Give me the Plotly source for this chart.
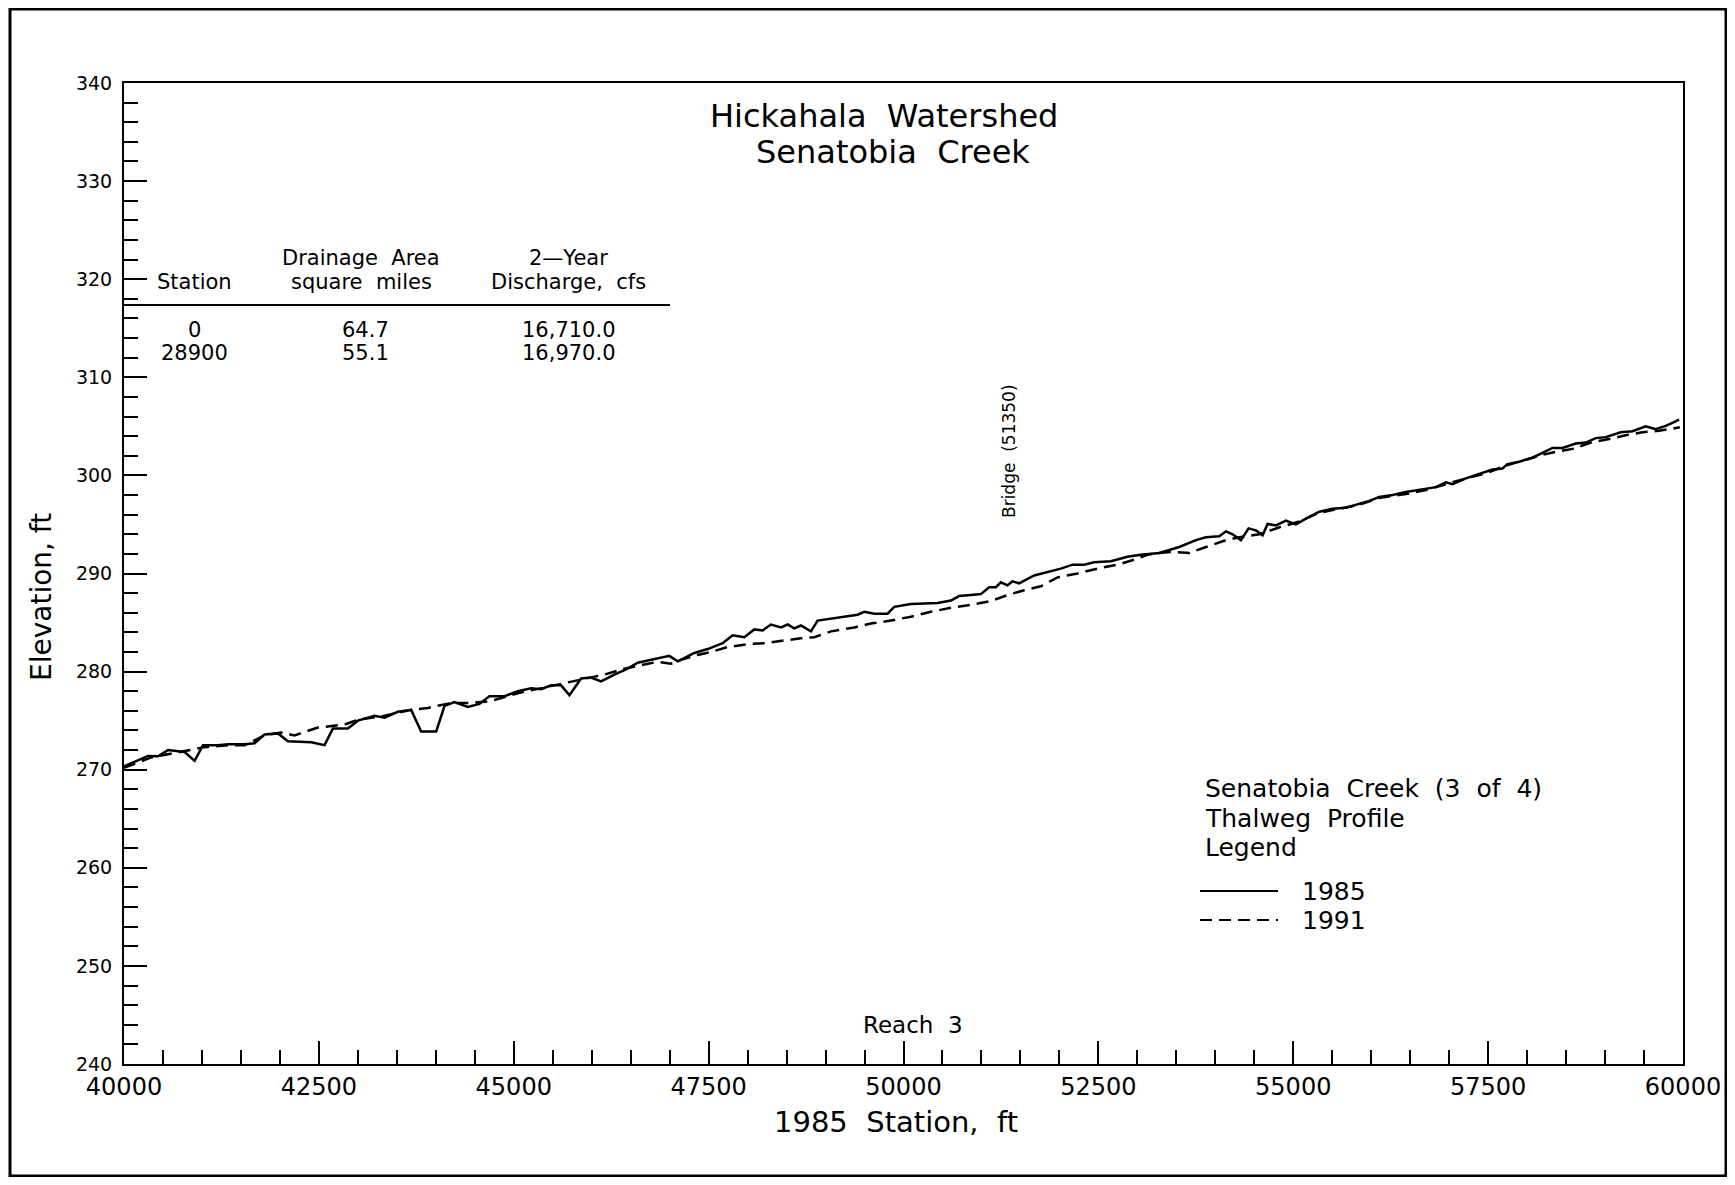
import plotly.graph_objects as go

# ---------------- data ----------------
station_1985 = [40000, 40180, 40308, 40436, 40564, 40778, 40906, 41013, 41205, 41333,
                41547, 41675, 41804, 41975, 42103, 42402, 42573, 42680, 42872, 43000,
                43214, 43342, 43513, 43684, 43812, 44005, 44112, 44240, 44411, 44560,
                44689, 44881, 45052, 45223, 45351, 45479, 45607, 45714, 45864, 45992,
                46120, 46291, 46462,
                46590, 46761, 46996, 47103, 47317, 47488, 47680, 47808, 47958, 48086,
                48193, 48300, 48428, 48513, 48599, 48684, 48812, 48898, 49069, 49283,
                49411, 49496, 49625, 49796, 49881, 50095, 50437, 50608, 50714, 50864,
                50992, 51099, 51185, 51249, 51334, 51398, 51484, 51676, 51890, 52018,
                52168, 52317, 52445, 52659, 52873, 53044,
                53282, 53538, 53752, 53880, 54051, 54137, 54222, 54329, 54427, 54521,
                54607, 54671, 54778, 54906, 55034, 55163, 55334, 55504, 55675, 55846,
                55975, 56103, 56274, 56445, 56616, 56829, 56958, 57043, 57214, 57428,
                57556, 57684, 57748, 57898, 58069, 58197, 58325, 58454, 58625, 58753,
                58881, 59009, 59201, 59351, 59522, 59650, 59778, 59906, 59950]
elev_1985 = [270.34, 271.0, 271.4, 271.36, 272.0, 271.8, 270.9, 272.5, 272.5, 272.6,
             272.6, 272.7, 273.6, 273.7, 272.9, 272.8, 272.5, 274.2, 274.2, 275.0,
             275.5, 275.3, 275.9, 276.1, 273.9, 273.9, 276.5, 276.9, 276.4, 276.7,
             277.5, 277.5, 278.0, 278.3, 278.2, 278.6, 278.6, 277.6, 279.3, 279.4,
             279.0, 279.7, 280.3,
             280.9, 281.2, 281.6, 281.05, 281.9, 282.3, 282.9, 283.7, 283.5, 284.3,
             284.2, 284.8, 284.5, 284.8, 284.4, 284.7, 284.1, 285.2, 285.4, 285.6,
             285.8, 286.1, 285.9, 285.9, 286.6, 286.9, 287.0, 287.25, 287.7, 287.8,
             287.9, 288.6, 288.6, 289.1, 288.8, 289.2, 289.0, 289.8, 290.2, 290.5,
             290.9, 290.9, 291.15, 291.25, 291.7, 291.9,
             292.1, 292.7, 293.4, 293.7, 293.8, 294.3, 294.0, 293.4, 294.6, 294.4,
             293.9, 295.05, 294.9, 295.4, 295.0, 295.6, 296.3, 296.6, 296.7, 297.1,
             297.4, 297.8, 298.0, 298.3, 298.5, 298.8, 299.3, 299.1, 299.7, 300.3,
             300.6, 300.7, 301.15, 301.4, 301.8, 302.3, 302.8, 302.8, 303.25, 303.35,
             303.8, 303.9, 304.4, 304.5, 305.0, 304.7, 305.05, 305.5, 305.7]

station_1991 = [40000, 40350, 40778, 41034, 41333, 41547, 41804, 42017, 42188, 42487,
                42829, 43000, 43342, 43684, 43898, 44197, 44454, 44710, 45052, 45394,
                45650, 45949, 46163, 46419,
                46590, 46846, 47017, 47146, 47359, 47530, 47744, 48000, 48214, 48471,
                48683, 48855, 49069, 49368, 49582, 49838, 50095, 50351, 50608, 50864,
                51120, 51334, 51548, 51762, 51975, 52232, 52488, 52745, 52958, 53129,
                53282, 53453, 53667, 53880, 54137, 54308, 54564, 54821, 55077, 55334,
                55590, 55846, 56103, 56445, 56701, 56958, 57214, 57470, 57727, 57983,
                58197, 58368, 58582, 58838, 59052, 59266, 59479, 59693, 59885, 59960]
elev_1991 = [270.2, 271.25, 271.9, 272.3, 272.5, 272.5, 273.5, 273.8, 273.5, 274.3,
             274.6, 275.1, 275.5, 276.1, 276.3, 276.8, 276.8, 277.0, 277.8, 278.4,
             278.8, 279.4, 279.7, 280.3,
             280.6, 281.0, 280.8, 281.2, 281.7, 282.0, 282.5, 282.8, 282.9, 283.2,
             283.4, 283.5, 284.1, 284.5, 284.9, 285.2, 285.6, 286.1, 286.5, 286.8,
             287.2, 287.8, 288.3, 288.7, 289.6, 290.0, 290.5, 290.9, 291.4, 291.9,
             292.1, 292.2, 292.1, 292.7, 293.4, 293.7, 294.0, 294.7, 295.3, 296.2,
             296.6, 297.0, 297.7, 298.1, 298.5, 299.1, 299.7, 300.2, 301.0, 301.6,
             302.1, 302.4, 302.7, 303.4, 303.7, 304.1, 304.4, 304.55, 304.8, 304.9]

series_names = ["1985", "1991"]

table_headers_top = ["", "Drainage Area", "2\u2014Year"]
table_headers_bottom = ["Station", "square miles", "Discharge, cfs"]
table_station = ["0", "28900"]
table_area = ["64.7", "55.1"]
table_discharge = ["16,710.0", "16,970.0"]

title_lines = ["Hickahala Watershed", "Senatobia Creek"]
legend_title_lines = ["Senatobia Creek (3 of 4)", "Thalweg Profile", "Legend"]
bridge_label = "Bridge (51350)"
reach_label = "Reach 3"
x_title = "1985 Station, ft"
y_title = "Elevation, ft"

# ---------------- layout geometry ----------------
# page has an 8px body margin, so figure pixel = page pixel - 8
OFF = 8
W, H = 1719, 1169
PL, PR, PT, PB = 124 - OFF, 1683 - OFF, 83 - OFF, 1064 - OFF
FONT = "DejaVu Sans"
NB2 = "\u00a0\u00a0"  # the drafting font uses wide word gaps


def wide(s):
    return s.replace(" ", NB2)


def px(xpage, ypage):
    xf, yf = xpage - OFF, ypage - OFF
    return (xf - PL) / (PR - PL), (PB - yf) / (PB - PT)


fig = go.Figure()
fig.add_trace(go.Scatter(x=station_1985, y=elev_1985, mode="lines", name=series_names[0],
                         line=dict(color="black", width=2.5)))
fig.add_trace(go.Scatter(x=station_1991, y=elev_1991, mode="lines", name=series_names[1],
                         line=dict(color="black", width=2.5, dash="12px,7px")))

annotations = []


def text(s, xp, yp, size, xanchor="center", angle=0):
    x, y = px(xp, yp)
    annotations.append(dict(text=s, x=x, y=y, xref="paper", yref="paper",
                            xanchor=xanchor, yanchor="middle", showarrow=False,
                            textangle=angle, font=dict(family=FONT, size=size, color="black")))


# title
text(wide(title_lines[0]), 884, 116, 32)
text(wide(title_lines[1]), 893, 152, 32)

# table
col_x = [194, 361, 568]
for cx, t in zip(col_x, table_headers_top):
    if t:
        text(wide(t), cx, 258, 21)
for cx, t in zip(col_x, table_headers_bottom):
    text(wide(t), cx, 282, 21)
for i, yy in enumerate([330, 353]):
    text(table_station[i], col_x[0], yy, 21)
    text(table_area[i], 365, yy, 21)
    text(table_discharge[i], 569, yy, 21)

# bridge + reach labels
text(wide(bridge_label), 1009, 451, 17, angle=-90)
text(wide(reach_label), 913, 1025, 23)

# legend block
for t, yy in zip(legend_title_lines, [788, 818, 847]):
    text(wide(t), 1203, yy, 25, xanchor="left")
text(series_names[0], 1300, 891, 25, xanchor="left")
text(series_names[1], 1300, 920, 25, xanchor="left")

# axis titles
text(wide(x_title), 896, 1122, 29)
text(y_title, 41, 597, 28, angle=-90)

shapes = []
# table rule
x0, y0 = px(124, 305)
x1, _ = px(670, 305)
shapes.append(dict(type="line", xref="paper", yref="paper", x0=x0, x1=x1, y0=y0, y1=y0,
                   line=dict(color="black", width=2)))
# legend samples
for yy, dash in [(891, "solid"), (920, "12px,7px")]:
    a, b = px(1200, yy)
    c, _ = px(1278, yy)
    shapes.append(dict(type="line", xref="paper", yref="paper", x0=a, x1=c, y0=b, y1=b,
                       line=dict(color="black", width=2, dash=dash)))
# outer page frame
fx0, fy0 = px(10, 1176)
fx1, fy1 = px(1726, 9)
shapes.append(dict(type="rect", xref="paper", yref="paper", x0=fx0, x1=fx1, y0=fy0, y1=fy1,
                   line=dict(color="black", width=3)))

axis_common = dict(showline=True, linecolor="black", linewidth=2, mirror=True,
                   ticks="inside", tickcolor="black", tickwidth=1.5, ticklen=23,
                   showgrid=False, zeroline=False, tickformat="d")

fig.update_layout(
    width=W, height=H,
    margin=dict(l=PL, r=W - PR, t=PT, b=H - PB, autoexpand=False),
    paper_bgcolor="white", plot_bgcolor="white",
    showlegend=False,
    xaxis=dict(range=[40000, 60000], tick0=40000, dtick=2500,
               minor=dict(dtick=500, ticks="inside", ticklen=14, tickwidth=1.5,
                          tickcolor="black", showgrid=False),
               tickfont=dict(family=FONT, size=24, color="black"),
               ticklabelstandoff=0, **axis_common),
    yaxis=dict(range=[240, 340], tick0=240, dtick=10,
               minor=dict(dtick=2, ticks="inside", ticklen=14, tickwidth=1.5,
                          tickcolor="black", showgrid=False),
               tickfont=dict(family=FONT, size=19, color="black"),
               ticklabelstandoff=6, **axis_common),
    annotations=annotations,
    shapes=shapes,
)

fig.write_html("out.html")
